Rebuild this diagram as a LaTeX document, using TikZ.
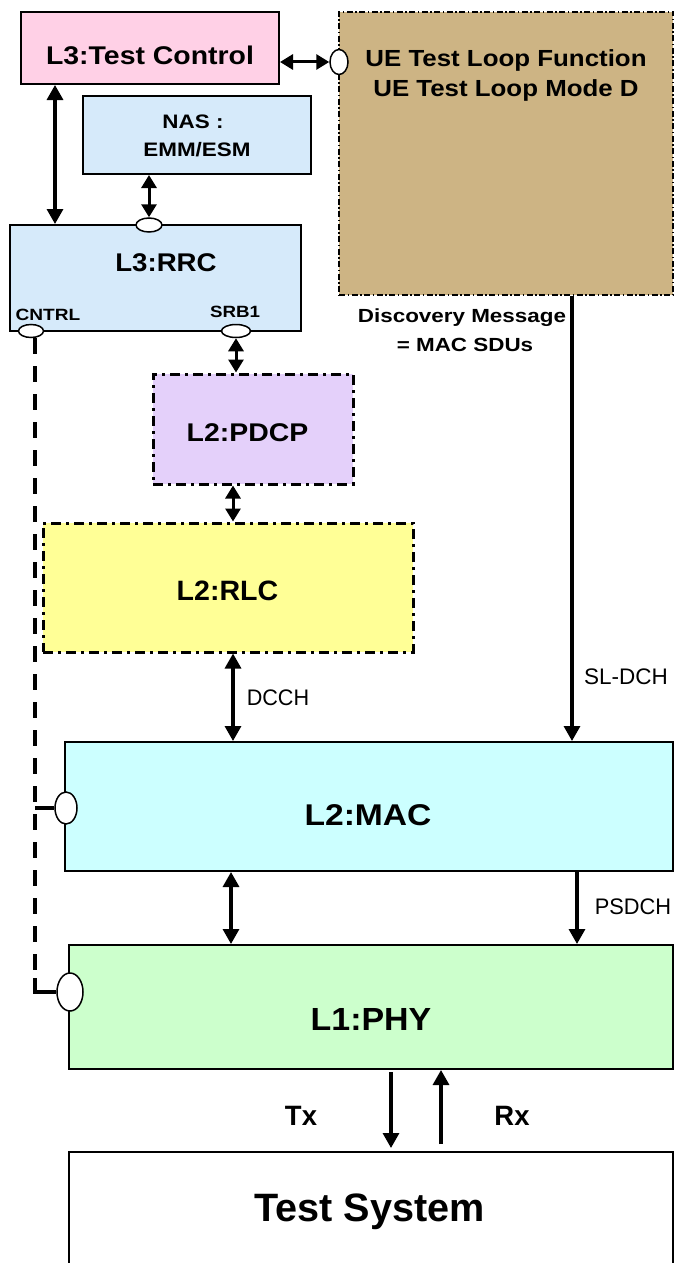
\documentclass[tikz,border=0pt]{standalone}
\usepackage{fontspec}
\usepackage{graphicx}
\setmainfont{Liberation Sans}
\usetikzlibrary{arrows.meta,shapes.geometric}
\newcommand\bt[3]{\scalebox{#2}[1]{\fontsize{#1}{#1}\selectfont\bfseries #3}}
\newcommand\rt[3]{\scalebox{#2}[1]{\fontsize{#1}{#1}\selectfont #3}}
\definecolor{cpink}{RGB}{255,208,230}
\definecolor{cblue}{RGB}{214,234,250}
\definecolor{ctan}{RGB}{205,180,132}
\definecolor{clav}{RGB}{228,208,250}
\definecolor{cyel}{RGB}{255,255,150}
\definecolor{ccyan}{RGB}{204,255,255}
\definecolor{cgreen}{RGB}{204,255,204}
\tikzset{
  box/.style={draw, line width=2pt, inner sep=0pt, rectangle},
  ddbox/.style={draw, line width=3pt, inner sep=0pt, rectangle, dash pattern=on 10pt off 5pt on 3pt off 5pt},
  tanbox/.style={draw, line width=1.8pt, inner sep=0pt, rectangle, dash pattern=on 6pt off 2.5pt on 1.5pt off 2.5pt},
  port/.style={draw, fill=white, ellipse, line width=1.5pt, inner sep=0pt},
  txt/.style={anchor=base, inner sep=0pt},
  arr/.style={line width=3.2pt, -{Triangle[length=15pt,width=16pt]}},
  darr/.style={line width=3.2pt, {Triangle[length=15pt,width=16pt]}-{Triangle[length=15pt,width=16pt]}},
  sarr/.style={line width=3pt, {Triangle[length=13pt,width=15pt]}-{Triangle[length=13pt,width=15pt]}},
  ctl/.style={line width=4pt, dash pattern=on 16pt off 12pt},
}
\begin{document}
\begin{tikzpicture}[x=1pt,y=-1pt]
\useasboundingbox (0,0) rectangle (675,1263);
\clip (0,0) rectangle (675,1263);
% boxes
\node[box, fill=cpink, minimum width=258pt, minimum height=72pt] (tc) at (150,48) {};
\node[box, fill=cblue, minimum width=228pt, minimum height=78pt] (nas) at (197,135) {};
\node[box, fill=cblue, minimum width=291pt, minimum height=106pt] (rrc) at (155.5,278) {};
\node[tanbox, fill=ctan, minimum width=334pt, minimum height=283pt] (ue) at (506,153.5) {};
\node[ddbox, fill=clav, minimum width=200pt, minimum height=110pt] (pdcp) at (253,429) {};
\node[ddbox, fill=cyel, minimum width=370pt, minimum height=129pt] (rlc) at (228,587.5) {};
\node[box, fill=ccyan, minimum width=608pt, minimum height=129pt] (mac) at (369,806.5) {};
\node[box, fill=cgreen, minimum width=604pt, minimum height=124pt] (phy) at (371,1007) {};
\node[box, fill=white, minimum width=604pt, minimum height=130pt] (ts) at (371,1217) {};
% texts
\node[txt] (tcT) at (150,65) {\bt{25.6}{1.11}{L3:Test Control}};
\node[txt] (nasT1) at (193,128.3) {\bt{19.5}{1.15}{NAS :}};
\node[txt] (nasT2) at (197,156.7) {\bt{19.5}{1.15}{EMM/ESM}};
\node[txt] (ueT1) at (506,66.7) {\bt{23.3}{1.11}{UE Test Loop Function}};
\node[txt] (ueT2) at (506,96.7) {\bt{23.3}{1.11}{UE Test Loop Mode D}};
\node[txt] (rrcT) at (166,271.7) {\bt{25.6}{1.08}{L3:RRC}};
\node[txt] (cntrlT) at (48,320) {\bt{16.3}{1.17}{CNTRL}};
\node[txt] (srbT) at (235,317.3) {\bt{16.3}{1.15}{SRB1}};
\node[txt] (discT1) at (462,322.7) {\bt{19}{1.18}{Discovery Message}};
\node[txt] (discT2) at (465,351.7) {\bt{19}{1.18}{= MAC SDUs}};
\node[txt] (pdcpT) at (247.5,441.7) {\bt{25.6}{1.11}{L2:PDCP}};
\node[txt] (rlcT) at (227.5,600) {\bt{28}{1.02}{L2:RLC}};
\node[txt] (dcchT) at (278,705) {\rt{22.5}{0.96}{DCCH}};
\node[txt] (sldchT) at (626,684) {\rt{22.5}{1.0}{SL-DCH}};
\node[txt] (macT) at (368,825) {\bt{30}{1.12}{L2:MAC}};
\node[txt] (psdchT) at (633,914) {\rt{22.5}{0.97}{PSDCH}};
\node[txt] (phyT) at (371,1030) {\bt{32}{1.06}{L1:PHY}};
\node[txt] (txT) at (301,1125) {\bt{28}{0.98}{Tx}};
\node[txt] (rxT) at (512,1125) {\bt{28}{0.98}{Rx}};
\node[txt] (tsT) at (369.5,1221.7) {\bt{39.6}{1.0}{Test System}};
% ports
\node[port, minimum width=26pt, minimum height=14pt] (nasE) at (149,225) {};
\node[port, minimum width=25pt, minimum height=13pt] (cntrlE) at (31,331) {};
\node[port, minimum width=29pt, minimum height=13pt] (srbE) at (236,331) {};
\node[port, minimum width=18pt, minimum height=25pt] (ueE) at (339,62) {};
\node[port, minimum width=22pt, minimum height=32pt] (macE) at (66,808) {};
\node[port, minimum width=26pt, minimum height=38pt] (phyE) at (70,992) {};
% connectors
\draw[sarr] (tc.east |- ueE.west) -- (ueE.west);
\draw[darr] (55,0 |- tc.south) -- (55,0 |- rrc.north);
\draw[sarr] (nasE.north |- nas.south) -- (nasE.north);
\draw[sarr] (srbE.south) -- (srbE.south |- pdcp.north);
\draw[sarr] (233,0 |- pdcp.south) -- (233,0 |- rlc.north);
\draw[darr] (233,0 |- rlc.south) -- (233,0 |- mac.north);
\draw[arr] (572,0 |- ue.south) -- (572,0 |- mac.north);
\draw[darr] (231,0 |- mac.south) -- (231,0 |- phy.north);
\draw[arr] (577,0 |- mac.south) -- (577,0 |- phy.north);
\draw[arr, shorten <=2pt, shorten >=3pt] (391,0 |- phy.south) -- (391,0 |- ts.north);
\draw[arr, shorten <=7pt] (441,0 |- ts.north) -- (441,0 |- phy.south);
\draw[ctl] (35,0 |- cntrlE.south) -- (35,0 |- phyE);
\draw[line width=4pt] (35,978) -- (35,0 |- phyE) -- (phyE.west);
\draw[line width=4pt] (35,0 |- macE) -- (macE.west);
\end{tikzpicture}
\end{document}
